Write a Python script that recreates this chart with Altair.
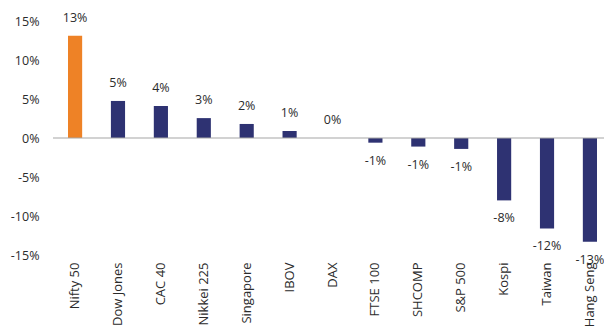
import altair as alt
import pandas as pd

indices = ["Nifty 50", "Dow Jones", "CAC 40", "Nikkei 225", "Singapore", "IBOV", "DAX",
           "FTSE 100", "SHCOMP", "S&P 500", "Kospi", "Taiwan", "Hang Seng"]
returns = [13.1, 4.75, 4.1, 2.55, 1.8, 0.9, 0.0, -0.6, -1.1, -1.4, -8.0, -11.6, -13.3]
y_ticks = [-15, -10, -5, 0, 5, 10, 15]

df = pd.DataFrame({"index": indices, "ret": returns})

FONT = "Open Sans"
TXT = "#2b2b2b"
ORANGE = "#EE8226"
NAVY = "#2E3272"

x_axis = alt.Axis(title=None, labelAngle=-90, labelAlign="right", labelBaseline="middle",
                  labelPadding=7, domain=False, ticks=False, labelFontSize=13,
                  labelColor=TXT, labelFont=FONT, labelOverlap=False)
x_scale = alt.Scale(paddingInner=0.67, paddingOuter=0, range=[15, 544])
y_axis = alt.Axis(title=None, values=y_ticks, labelExpr="datum.value + '%'",
                  domain=False, ticks=False, grid=False, labelPadding=14,
                  labelOverlap=False, labelFlush=False,
                  labelFontSize=12.5, labelColor=TXT, labelFont=FONT)
y_scale = alt.Scale(domain=[-15, 15], nice=False)

x_enc = alt.X("index:N", sort=indices, scale=x_scale, axis=x_axis)
y_enc = alt.Y("ret:Q", scale=y_scale, axis=y_axis)

base = alt.Chart(df)

bars = base.mark_bar().encode(
    x=x_enc, y=y_enc,
    color=alt.condition(alt.datum["index"] == "Nifty 50", alt.value(ORANGE), alt.value(NAVY)),
)

zero = alt.Chart(pd.DataFrame({"ret": [0]})).mark_rule(color="#A6A6A6", strokeWidth=1.2).encode(
    y=y_enc
)

pos_lbl = base.transform_filter("datum.ret >= 0").transform_calculate(
    lbl="format(datum.ret, '.0f') + '%'"
).mark_text(baseline="bottom", dy=-11, fontSize=12.5, font=FONT, color=TXT).encode(
    x=x_enc, y=y_enc, text=alt.Text("lbl:N"),
)

neg_lbl = base.transform_filter("datum.ret < 0").transform_calculate(
    lbl="replace(format(datum.ret, '.0f'), '−', '-') + '%'"
).mark_text(baseline="top", dy=12, fontSize=12.5, font=FONT, color=TXT).encode(
    x=x_enc, y=y_enc, text=alt.Text("lbl:N"),
)

chart = alt.layer(bars, zero, pos_lbl, neg_lbl).properties(
    width=551, height=234,
    autosize=alt.AutoSizeParams(type="none"),
    padding={"left": 53, "top": 21, "right": 0, "bottom": 80},
).configure_view(stroke=None).configure_axisY(labelOverlap=False)

chart.save("out.html", embed_options={"renderer": "svg", "actions": False})
